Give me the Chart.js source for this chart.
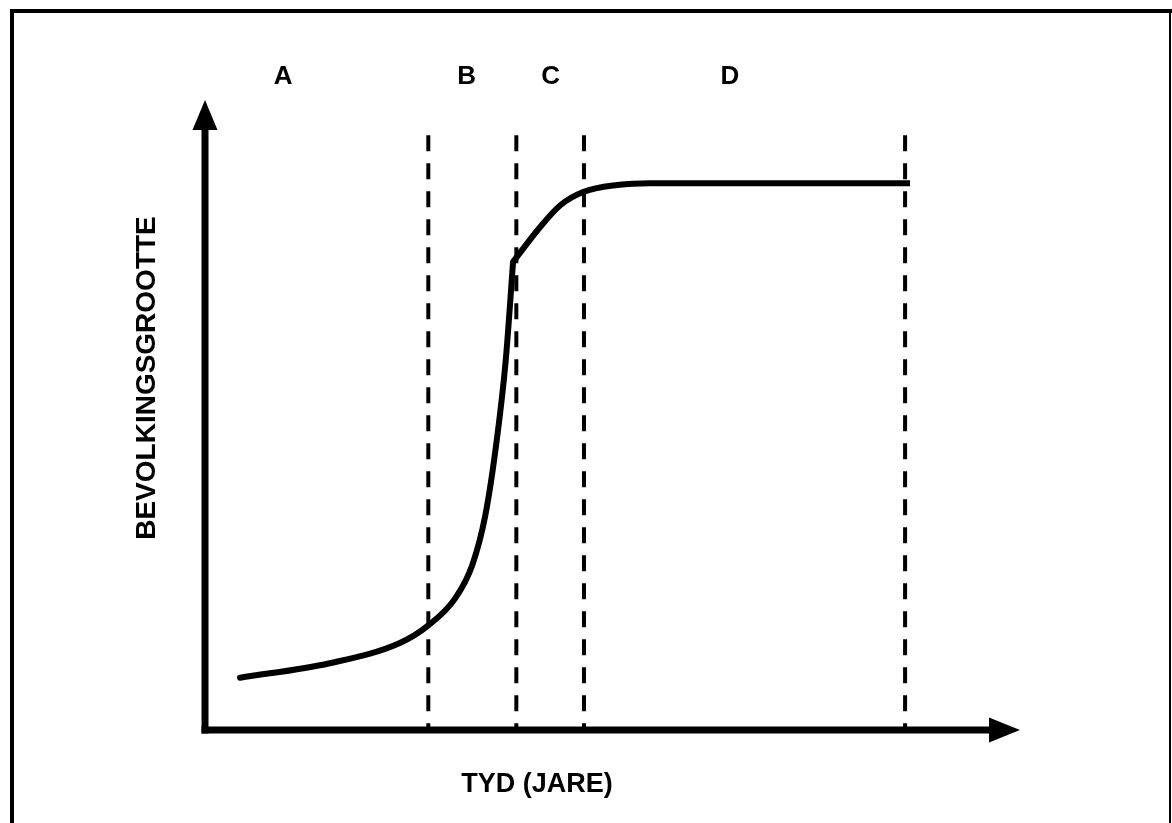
<!DOCTYPE html>
<html>
<head>
<meta charset="utf-8">
<script src="https://cdn.jsdelivr.net/npm/chart.js@4.4.1/dist/chart.umd.min.js"></script>
<style>
  html, body { margin: 0; padding: 0; background: #fff; }
  #wrap { width: 1172px; height: 823px; position: relative; }
</style>
</head>
<body>
<div id="wrap"><canvas id="myChart" width="1172" height="823"></canvas></div>
<script>
// growth curve, lower part (x = time, y = population size, 0..100)
const curveLowX = [4.3, 15.3, 23.9, 27.4, 30.7, 32.8, 34.4, 35.8, 36.9, 37.8];
const curveLowY = [8.3, 10.6, 13.8, 16.6, 20.9, 26.2, 34.1, 46.0, 58.7, 74.3];
// upper part after the kink
const curveHighX = [37.8, 41.1, 43.6, 46.4, 50.6, 54.6, 86.5];
const curveHighY = [74.3, 79.8, 83.3, 85.4, 86.5, 86.8, 86.8];
// phase boundaries (dashed)
const boundaryX = [27.4, 38.2, 46.5, 85.9];
const boundaryTop = 94.4;
// phase labels
const phaseLabels = ['A', 'B', 'C', 'D'];
const phaseLabelX = [9.6, 32.1, 42.4, 64.4];
const phaseLabelY = 103.7;
const xTitle = 'TYD (JARE)';
const yTitle = 'BEVOLKINGSGROOTTE';

const FAMILY = '"Liberation Sans", Arial, sans-serif';

const toPts = (xs, ys) => xs.map((x, i) => ({x: x, y: ys[i]}));

let datasets = [];
boundaryX.forEach((bx) => {
  datasets.push({
    data: [{x: bx, y: boundaryTop}, {x: bx, y: 0}],
    borderColor: '#000',
    borderWidth: 4,
    borderDash: [16, 12],
    pointRadius: 0,
    tension: 0
  });
});
datasets.push({
  data: toPts(curveLowX, curveLowY),
  borderColor: '#000',
  borderWidth: 6,
  pointRadius: 0,
  cubicInterpolationMode: 'monotone',
  borderCapStyle: 'round'
});
datasets.push({
  data: toPts(curveHighX, curveHighY),
  borderColor: '#000',
  borderWidth: 6,
  pointRadius: 0,
  cubicInterpolationMode: 'monotone',
  borderCapStyle: 'butt'
});

// axes with arrows, frame and texts
const decor = {
  id: 'decor',
  beforeDraw(chart) {
    const ctx = chart.ctx;
    ctx.save();
    ctx.fillStyle = '#fff';
    ctx.fillRect(0, 0, chart.width, chart.height);
    ctx.fillStyle = '#000';
    // frame
    ctx.fillRect(10, 9, 1162, 4);
    ctx.fillRect(10, 9, 4, 823);
    ctx.fillRect(1169, 9, 2, 823);
    ctx.restore();
  },
  afterDraw(chart) {
    const ctx = chart.ctx;
    const sx = chart.scales.x, sy = chart.scales.y;
    const x0 = sx.getPixelForValue(0), y0 = sy.getPixelForValue(0);
    const xTip = sx.getPixelForValue(100), yTip = sy.getPixelForValue(100);
    ctx.save();
    ctx.fillStyle = '#000';
    // y axis
    ctx.fillRect(x0 - 3.5, yTip + 28, 7, y0 + 3.5 - (yTip + 28));
    ctx.beginPath();
    ctx.moveTo(x0, yTip);
    ctx.lineTo(x0 + 12.5, yTip + 30);
    ctx.lineTo(x0 - 12.5, yTip + 30);
    ctx.closePath();
    ctx.fill();
    // x axis
    ctx.fillRect(x0 - 3.5, y0 - 3.5, xTip - 29 - (x0 - 3.5), 7);
    ctx.beginPath();
    ctx.moveTo(xTip, y0);
    ctx.lineTo(xTip - 31, y0 - 12.5);
    ctx.lineTo(xTip - 31, y0 + 12.5);
    ctx.closePath();
    ctx.fill();
    // texts
    ctx.font = 'bold 26px ' + FAMILY;
    ctx.textAlign = 'center';
    ctx.textBaseline = 'middle';
    phaseLabels.forEach((lab, i) => {
      ctx.fillText(lab, sx.getPixelForValue(phaseLabelX[i]), sy.getPixelForValue(phaseLabelY));
    });
    ctx.font = 'bold 27px ' + FAMILY;
    ctx.fillText(xTitle, 537, 785);
    ctx.font = 'bold 28px ' + FAMILY;
    ctx.translate(147, 378);
    ctx.rotate(-Math.PI / 2);
    ctx.fillText(yTitle, 0, 0);
    ctx.restore();
  }
};

new Chart('myChart', {
  type: 'line',
  data: { datasets: datasets },
  options: {
    responsive: false,
    animation: false,
    clip: false,
    layout: { padding: { left: 205, right: 152, top: 100, bottom: 93 } },
    plugins: { legend: { display: false }, tooltip: { enabled: false } },
    scales: {
      x: { type: 'linear', min: 0, max: 100, display: false },
      y: { type: 'linear', min: 0, max: 100, display: false }
    }
  },
  plugins: [decor]
});
</script>
</body>
</html>
